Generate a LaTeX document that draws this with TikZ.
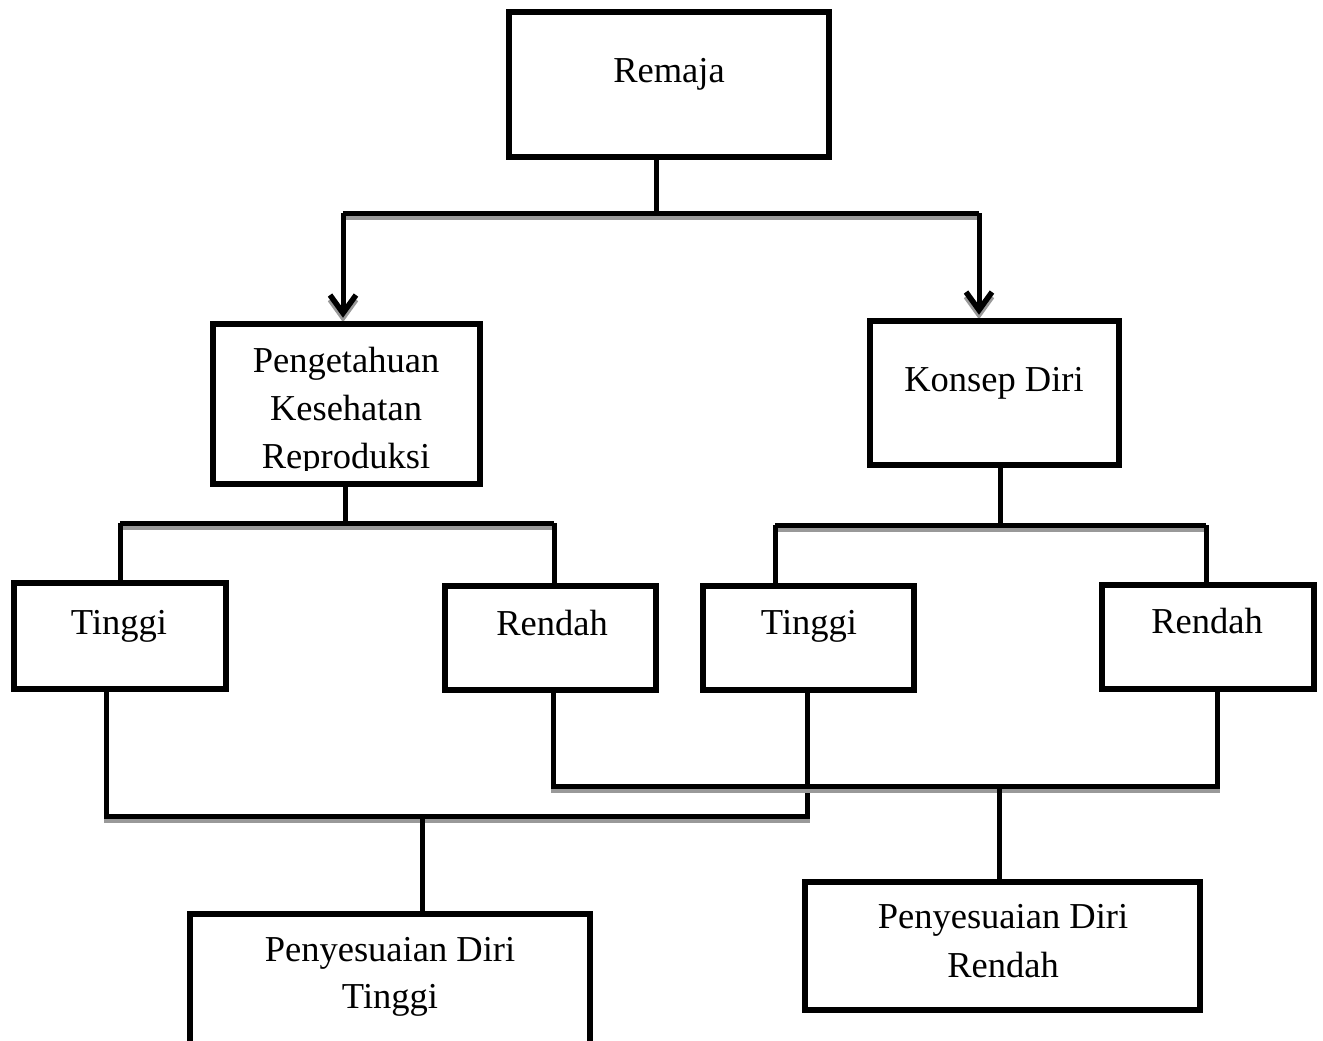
\documentclass[tikz,border=0pt]{standalone}
\usepackage{fontspec}
\setmainfont{Liberation Serif}
\usetikzlibrary{arrows.meta}
\begin{document}
\begin{tikzpicture}[x=1pt,y=-1pt,
  box/.style={draw=black,line width=6.5pt,fill=white,rectangle,inner sep=0pt},
  lbl/.style={anchor=base,inner sep=0pt,font=\fontsize{36.5}{48}\selectfont},
  conn/.style={line width=5pt,draw=black,
    preaction={draw=black!40,line width=5pt,transform canvas={yshift=-4.5pt}}},
  arr/.style={-{Straight Barb[length=18pt,width=26pt,line width=5.5pt]},shorten >=3pt}
]
\useasboundingbox (0,0) rectangle (1323,1041);
\clip (0,0) rectangle (1323,1041);

% junction coordinates
\coordinate (j0) at (656,213);
\coordinate (ja) at (343,213);
\coordinate (jb) at (979,213);
\coordinate (l0) at (345,523);
\coordinate (la) at (120,523);
\coordinate (lb) at (554,523);
\coordinate (r0) at (1000,525);
\coordinate (ra) at (775,525);
\coordinate (rb) at (1206,525);
\coordinate (ta) at (106,816);
\coordinate (tb) at (807,816);
\coordinate (tm) at (422,816);
\coordinate (ua) at (553,786);
\coordinate (ub) at (1217,786);
\coordinate (um) at (999,786);

% boxes (positions first, drawn again on top)
\path
  node[box,minimum width=320pt,minimum height=145pt] (rem) at (669,84.5) {}
  node[box,minimum width=267pt,minimum height=160pt] (pkr) at (346.5,404) {}
  node[box,minimum width=249pt,minimum height=144pt] (kd) at (994.5,393) {}
  node[box,minimum width=212pt,minimum height=106pt] (t1) at (120,636) {}
  node[box,minimum width=211pt,minimum height=104pt] (r1) at (550.5,638) {}
  node[box,minimum width=211pt,minimum height=104pt] (t2) at (808.5,638) {}
  node[box,minimum width=212pt,minimum height=104pt] (r2) at (1208,637) {}
  node[box,minimum width=395pt,minimum height=128pt] (pdr) at (1002.5,946) {}
  node[box,minimum width=400pt,minimum height=143pt] (pdt) at (390,985.5) {};

% connectors
\draw[conn] (rem.south -| j0) -- (j0);
\draw[conn] (ja) -- (jb);
\draw[conn,arr] (ja) -- (ja |- pkr.north);
\draw[conn,arr] (jb) -- (jb |- kd.north);

\draw[conn] (pkr.south -| l0) -- (l0);
\draw[conn] (la) -- (lb);
\draw[conn] (la) -- (la |- t1.north);
\draw[conn] (lb) -- (lb |- r1.north);

\draw[conn] (kd.south -| r0) -- (r0);
\draw[conn] (ra) -- (rb);
\draw[conn] (ra) -- (ra |- t2.north);
\draw[conn] (rb) -- (rb |- r2.north);

\draw[conn] (t1.south -| ta) -- (ta) -- (tb) -- (t2.south -| tb);
\draw[conn] (tm) -- (tm |- pdt.north);
\draw[conn] (r1.south -| ua) -- (ua) -- (ub) -- (r2.south -| ub);
\draw[conn] (um) -- (um |- pdr.north);

% redraw boxes on top of connectors
\foreach \b/\w/\h/\x/\y in {rem/320/145/669/84.5, pkr/267/160/346.5/404, kd/249/144/994.5/393,
  t1/212/106/120/636, r1/211/104/550.5/638, t2/211/104/808.5/638, r2/212/104/1208/637,
  pdr/395/128/1002.5/946, pdt/400/143/390/985.5}
  \node[box,minimum width=\w pt,minimum height=\h pt] (\b b) at (\x,\y) {};

% labels
\node[lbl] (remT) at (669,83) {Remaja};
\node[lbl] (pkrT1) at (346,372) {Pengetahuan};
\node[lbl] (pkrT2) at (346,420) {Kesehatan};
\begin{scope}
  \clip (200,430) rectangle (490,470.5);
  \node[lbl] (pkrT3) at (346,468) {Reproduksi};
\end{scope}
\node[lbl] (kdT) at (994,391) {Konsep Diri};
\node[lbl] (t1T) at (119,634) {Tinggi};
\node[lbl] (r1T) at (552,635) {Rendah};
\node[lbl] (t2T) at (809,634) {Tinggi};
\node[lbl] (r2T) at (1207,633) {Rendah};
\node[lbl] (pdtT1) at (390,961) {Penyesuaian Diri};
\node[lbl] (pdtT2) at (390,1008) {Tinggi};
\node[lbl] (pdrT1) at (1003,928) {Penyesuaian Diri};
\node[lbl] (pdrT2) at (1003,977) {Rendah};
\end{tikzpicture}
\end{document}
